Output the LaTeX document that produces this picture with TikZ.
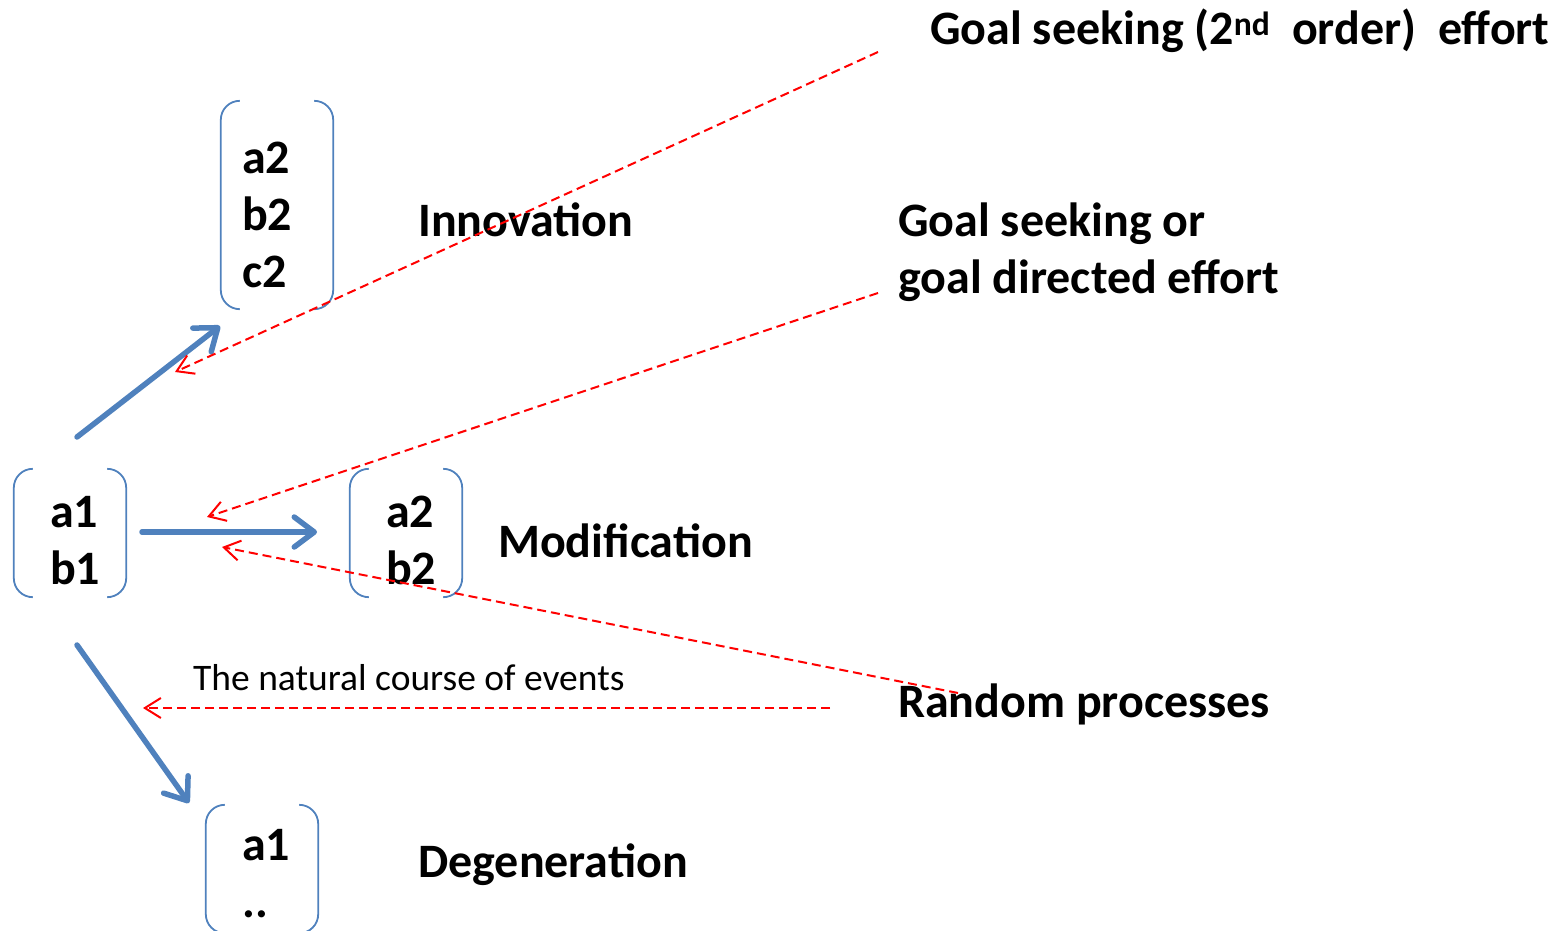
\documentclass[tikz,border=0pt]{standalone}
\usepackage{fontspec}
\setmainfont{Carlito}
\usetikzlibrary{arrows.meta}
\definecolor{boxblue}{RGB}{79,129,189}
\tikzset{
  big/.style={font=\fontsize{48pt}{57pt}\selectfont\bfseries, inner sep=0pt},
  small/.style={font=\fontsize{37.5pt}{44pt}\selectfont, inner sep=0pt},
  frame/.style={minimum width=112pt, minimum height=128pt, inner sep=0pt},
  brk/.style={draw=boxblue, line width=1.8pt, rounded corners=19pt},
  bluearrow/.style={draw=boxblue, line width=5.5pt, line cap=round,
    -{Straight Barb[round, length=20pt, width=30pt]}},
  reddash/.style={draw=red, line width=2pt, dash pattern=on 9pt off 5pt,
    -{Straight Barb[length=16pt, width=20pt]}},
}
\newcommand\brackets[1]{%
  \draw[brk] ([xshift=19pt]#1.north west) -- (#1.north west) -- (#1.south west) -- ([xshift=19pt]#1.south west);
  \draw[brk] ([xshift=-19pt]#1.north east) -- (#1.north east) -- (#1.south east) -- ([xshift=-19pt]#1.south east);
}
\begin{document}
\begin{tikzpicture}[x=1pt,y=-1pt]
\useasboundingbox (0,0) rectangle (1555,931);
% bracket boxes
\node[frame] (f1) at (70,533) {};
\node[frame] (f2) at (406,533) {};
\node[frame, minimum height=208pt] (f3) at (277,205) {};
\node[frame] (f4) at (262,869) {};
\brackets{f1}\brackets{f2}\brackets{f3}\brackets{f4}
% box contents (anchor at baseline of last line)
\node[big, align=left, anchor=base west] (t1) at (50,584) {a1\\b1};
\node[big, align=left, anchor=base west] (t2) at (386,584) {a2\\b2};
\node[big, align=left, anchor=base west] (t3) at (242,287) {a2\\b2\\c2};
\node[big, align=left, anchor=base west] (t4) at (242,917) {a1\\..};
% labels
\node[big, anchor=base west] (innov) at (418,236) {Innovation};
\node[big, anchor=base west] (modif) at (498,557) {Modification};
\node[big, anchor=base west] (degen) at (418,877) {Degeneration};
\node[big, anchor=base west] (rand) at (898,717) {Random processes};
\node[big, anchor=base west, align=left] (goal) at (898,293) {Goal seeking or\\goal directed effort};
\node[big, anchor=base west] (goal2) at (930,45) {Goal seeking (2\textsuperscript{nd}\ \ order)\ \ effort};
\node[small, anchor=base west] (nat) at (193,690) {The natural course of events};
% blue arrows
\coordinate (b1s) at (77,437); \coordinate (b1e) at (220,326);
\coordinate (b2s) at (142,532); \coordinate (b2e) at (317,532);
\coordinate (b3s) at (77,645); \coordinate (b3e) at (189,803);
\draw[bluearrow] (b1s) -- (b1e);
\draw[bluearrow] (b2s) -- (b2e);
\draw[bluearrow] (b3s) -- (b3e);
% red dashed arrows
\coordinate (r1s) at (878,52); \coordinate (r1e) at (175,372);
\coordinate (r2s) at (878,293); \coordinate (r2e) at (207,517);
\coordinate (r3s) at (958,693); \coordinate (r3e) at (222,547);
\coordinate (r4s) at (830,708); \coordinate (r4e) at (143,708);
\draw[reddash] (r1s) -- (r1e);
\draw[reddash] (r2s) -- (r2e);
\draw[reddash] (r3s) -- (r3e);
\draw[reddash] (r4s) -- (r4e);
\end{tikzpicture}
\end{document}
